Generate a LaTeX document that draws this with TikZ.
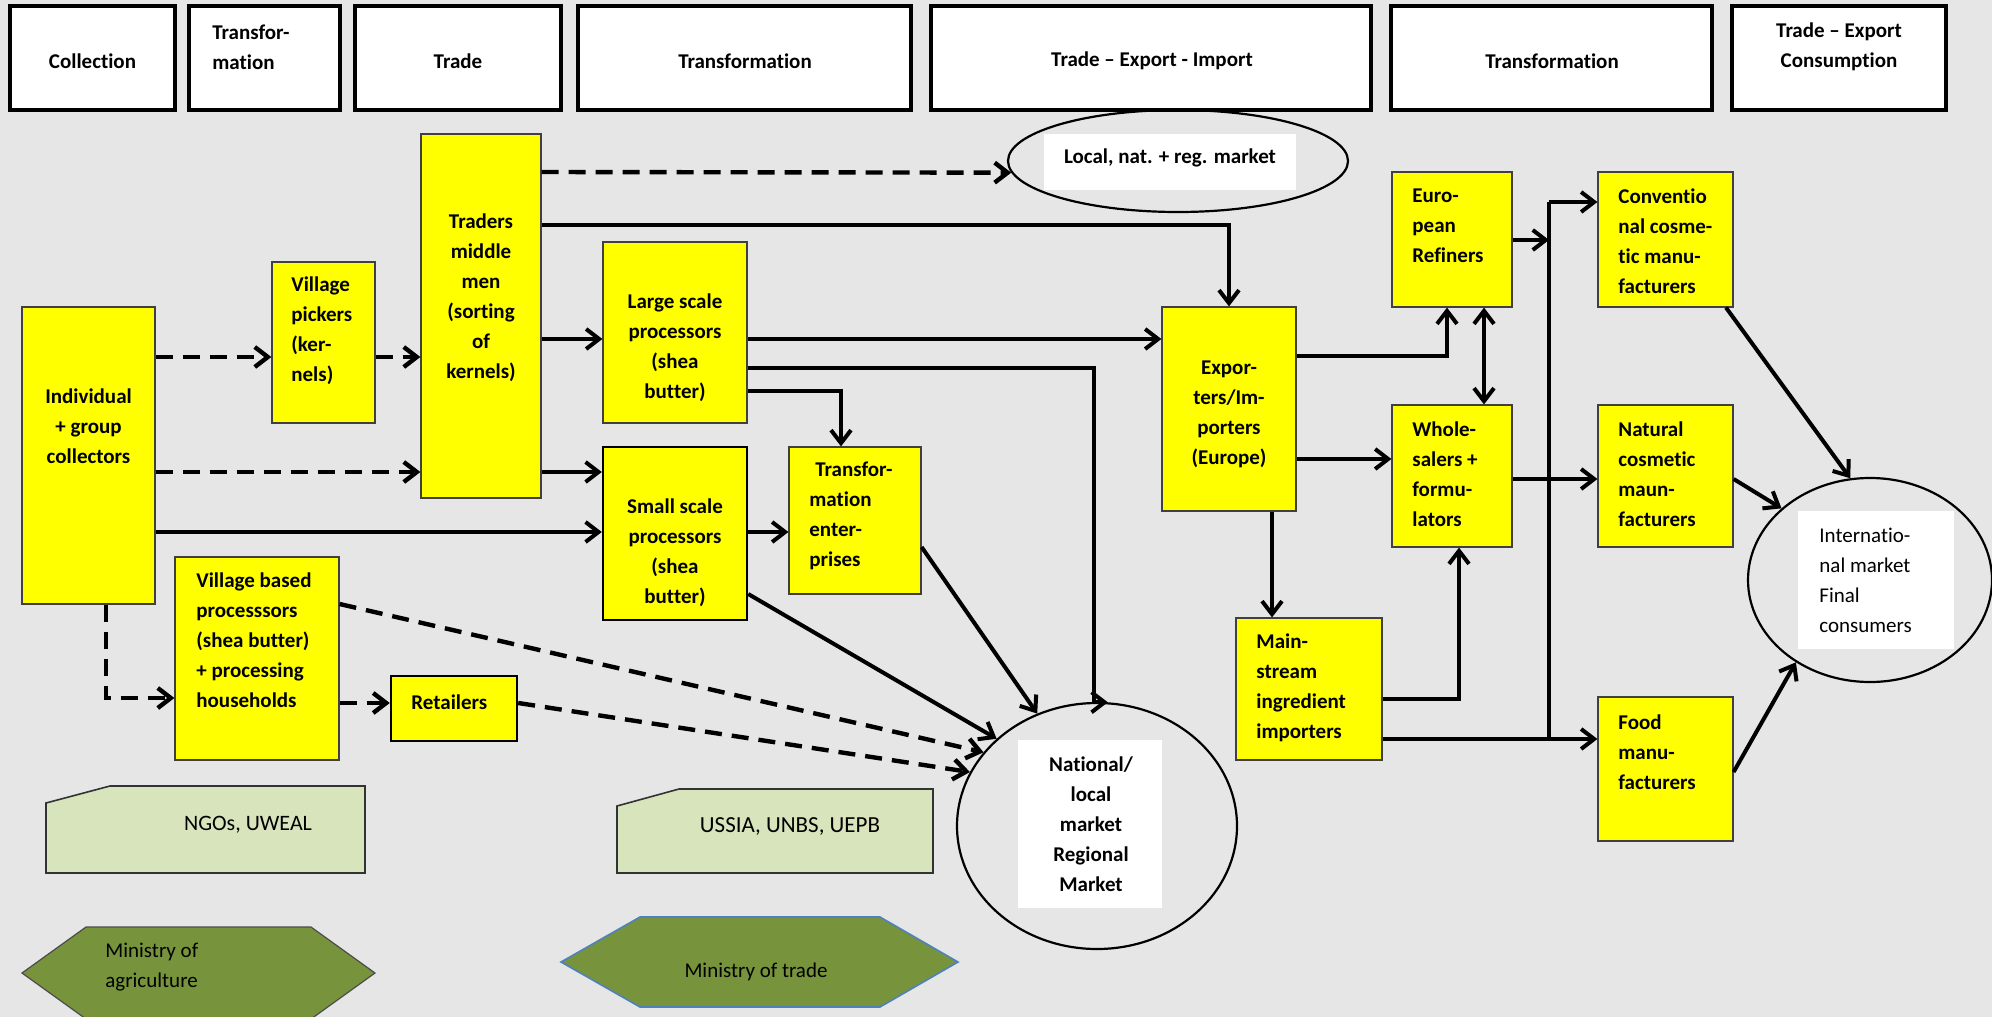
\documentclass[tikz,border=0pt]{standalone}
\usepackage{fontspec}
\setmainfont{Carlito}[Ligatures={TeX,NoCommon}]
\usetikzlibrary{arrows.meta,shapes.geometric,fit}
\definecolor{bg}{HTML}{E6E6E6}
\definecolor{ylw}{HTML}{FFFF00}
\definecolor{lgreen}{HTML}{D8E4BC}
\definecolor{olivegr}{HTML}{77933C}
\definecolor{trblue}{HTML}{4F81BD}
\begin{document}
\begin{tikzpicture}[x=0.5pt,y=-0.5pt,
  hdr/.style={draw=black, line width=2pt, fill=white, inner sep=0pt},
  ybox/.style={draw=black!75, fill=ylw, line width=0.6pt, inner sep=0pt},
  ythick/.style={draw=black, line width=1.2pt},
  tx/.style={font=\fontsize{10.5}{15}\selectfont\bfseries, inner sep=0pt, align=center},
  txl/.style={tx, align=left, anchor=west},
  txr/.style={font=\fontsize{10.5}{15}\selectfont, inner sep=0pt, align=left},
  mkt/.style={draw=black, line width=1.1pt, ellipse, inner sep=0pt},
  wbox/.style={fill=white, inner sep=0pt},
  barb/.tip={Straight Barb[length=6.5pt,width=10pt]},
  arr/.style={line width=2pt, -barb},
  dsh/.style={line width=2.2pt, -barb, dash pattern=on 8.5pt off 5pt},
  gbox/.style={draw=black!80, fill=lgreen, line width=0.8pt}
]
\useasboundingbox (0,0) rectangle (1992,1017);
\fill[bg] (0,0) rectangle (1992,1017);

% header
\node[hdr, fit={(10,6)(175,110)}] (h1) {};
\node[tx] (h1t) at (92.5,61) {Collection};
\node[hdr, fit={(189,6)(340,110)}] (h2) {};
\node[txl] (h2t) at (212,47) {Transfor-\\mation};
\node[hdr, fit={(355,6)(561,110)}] (h3) {};
\node[tx] (h3t) at (458,61) {Trade};
\node[hdr, fit={(578,6)(911,110)}] (h4) {};
\node[tx] (h4t) at (745,61) {Transformation};
\node[hdr, fit={(931,6)(1371,110)}] (h5) {};
\node[tx] (h5t) at (1152,61) {Trade – Export - Import};
\node[hdr, fit={(1391,6)(1712,110)}] (h6) {};
\node[tx] (h6t) at (1552,61) {Transformation};
\node[hdr, fit={(1732,6)(1946,110)}] (h7) {};
\node[tx] (h7t) at (1839,47) {Trade – Export\\Consumption};

% yellow boxes
\node[ybox, fit={(22,307)(155,604)}] (ind) {};
\node[tx] (indt) at (88.5,426) {Individual\\+ group\\collectors};
\node[ybox, fit={(272,262)(375,423)}] (vp) {};
\node[txl] (vpt) at (291,331) {Village\\pickers\\(ker-\\nels)};
\node[ybox, fit={(421,134)(541,498)}] (tr) {};
\node[tx] (trt) at (481,298) {Traders\\middle\\men\\(sorting\\of\\kernels)};
\node[ybox, fit={(603,242)(747,423)}] (lg) {};
\node[tx] (lgt) at (675,348) {Large scale\\processors\\(shea\\butter)};
\node[ybox, ythick, fit={(603,447)(747,620)}] (sm) {};
\node[tx] (smt) at (675,553) {Small scale\\processors\\(shea\\butter)};
\node[ybox, fit={(789,447)(921,594)}] (te) {};
\node[txl] (tet) at (809,516) {\hspace*{3pt}Transfor-\\mation\\enter-\\prises};
\node[ybox, fit={(1162,307)(1296,511)}] (ex) {};
\node[tx] (ext) at (1229,414) {Expor-\\ters/Im-\\porters\\(Europe)};
\node[ybox, fit={(1392,172)(1512,307)}] (rf) {};
\node[txl] (rft) at (1412,226) {Euro-\\pean\\Refiners};
\node[ybox, fit={(1392,405)(1512,547)}] (wh) {};
\node[txl] (wht) at (1412,474) {Whole-\\salers +\\formu-\\lators};
\node[ybox, fit={(1236,618)(1382,760)}] (ms) {};
\node[txl] (mst) at (1256,688) {Main-\\stream\\ingredient\\importers};
\node[ybox, fit={(1598,172)(1733,307)}] (cv) {};
\node[txl] (cvt) at (1618,241) {Conventio\\nal cosme-\\tic manu-\\facturers};
\node[ybox, fit={(1598,405)(1733,547)}] (nt) {};
\node[txl] (ntt) at (1618,474) {Natural\\cosmetic\\maun-\\facturers};
\node[ybox, fit={(1598,697)(1733,841)}] (fd) {};
\node[txl] (fdt) at (1618,752) {Food\\manu-\\facturers};
\node[ybox, fit={(175,557)(339,760)}] (vb) {};
\node[txl] (vbt) at (196,640) {Village based\\processsors\\(shea butter)\\+ processing\\households};
\node[ybox, ythick, fit={(391,676)(517,741)}] (rt) {};
\node[txl] (rtt) at (411,702) {Retailers};

% markets
\node[mkt, minimum width=170pt, minimum height=51pt] (loc) at (1178,161) {};
\node[wbox, fit={(1044,134)(1296,190)}] (locb) {};
\node[tx] (loct) at (1170,158) {Local, nat. + reg. market};
\node[mkt, minimum width=140pt, minimum height=123pt] (nat) at (1097,826) {};
\node[wbox, fit={(1018,740)(1162,908)}] (natb) {};
\node[tx] (natt) at (1091,824) {National/\\local\\market\\Regional\\Market};
\node[mkt, minimum width=122pt, minimum height=102pt] (int) at (1870,580) {};
\node[wbox, fit={(1798,511)(1954,649)}] (intb) {};
\node[txr, anchor=west] (intt) at (1819,580) {Internatio-\\nal market\\Final\\consumers};

% support institutions
\draw[gbox] (110,786) -- (365,786) -- (365,873) -- (46,873) -- (46,803) -- cycle;
\node[txr, font=\fontsize{11}{15}\selectfont] (ngo) at (248,825) {NGOs, UWEAL};
\draw[gbox] (679,789) -- (933,789) -- (933,873) -- (617,873) -- (617,806) -- cycle;
\node[txr, font=\fontsize{11.5}{15}\selectfont] (ussia) at (790,826) {USSIA, UNBS, UEPB};
\draw[fill=olivegr, draw=black!70, line width=0.6pt] (86,927) -- (311,927) -- (375,973) -- (311,1019) -- (86,1019) -- (22,973) -- cycle;
\node[txr, anchor=west] (moa) at (105,967) {Ministry of\\agriculture};
\draw[fill=olivegr, draw=trblue, line width=0.8pt] (640,917) -- (880,917) -- (958,962) -- (880,1007) -- (640,1007) -- (561,962) -- cycle;
\node[txr] (mot) at (756,972) {Ministry of trade};

% connectors left part
\draw[dsh] (ind.east |- 0,357) -- (vp.west |- 0,357);
\draw[dsh] (vp.east |- 0,357) -- (tr.west |- 0,357);
\draw[dsh] (ind.east |- 0,472) -- (tr.west |- 0,472);
\draw[arr] (tr.east |- 0,339) -- (lg.west |- 0,339);
\draw[arr] (tr.east |- 0,472) -- (sm.west |- 0,472);
\draw[arr] (ind.east |- 0,532) -- (sm.west |- 0,532);
\draw[dsh] (tr.east |- 0,172) -- (loc.184);
\draw[arr] (tr.east |- 0,225) -| (ex.north);
\draw[arr] (lg.east |- 0,339) -- (ex.west |- 0,339);
\draw[arr] (lg.east |- 0,368) -| ([xshift=-7pt]nat.85) -- (nat.85);
\draw[arr] (lg.east |- 0,391) -| (te.north -| 841,0);
\draw[arr] (sm.east |- 0,532) -- (te.west |- 0,532);
\draw[arr] (sm.east |- 0,594) -- (nat.139);
\draw[arr] (te.east |- 0,547) -- (nat.118);
\draw[dsh] (vb.east |- 0,604) -- (nat.147);
\draw[dsh] (rt.east |- 0,703) -- (nat.157);
\draw[dsh] (ind.south -| 106,0) |- (vb.west |- 0,698);
\draw[dsh] (vb.east |- 0,703) -- (rt.west |- 0,703);

% connectors right part
\draw[arr] (ex.east |- 0,356) -| (rf.south -| 1447,0);
\draw[line width=2pt, barb-barb] (rf.south -| 1484,0) -- (wh.north -| 1484,0);
\draw[arr] (ex.east |- 0,459) -- (wh.west |- 0,459);
\draw[arr] (ex.south -| 1272,0) -- (ms.north -| 1272,0);
\draw[arr] (ms.east |- 0,699) -| (wh.south -| 1459,0);
\draw[arr] (ms.east |- 0,739) -- (fd.west |- 0,739);
\coordinate (vt) at (1549,202);
\coordinate (vbt) at (1549,739);
\coordinate (vr) at (1549,240);
\draw[line width=2pt] (vt) -- (vbt);
\draw[arr] (vt) -- (cv.west |- vt);
\draw[arr] (rf.east |- vr) -- (vr);
\draw[arr] (wh.east |- 0,479) -- (nt.west |- 0,479);
\draw[arr] (cv.south -| 1726,0) -- (int.101);
\draw[arr] (nt.east |- 0,479) -- (int.141);
\draw[arr] (fd.east |- 0,772) -- (int.228);
\end{tikzpicture}
\end{document}
